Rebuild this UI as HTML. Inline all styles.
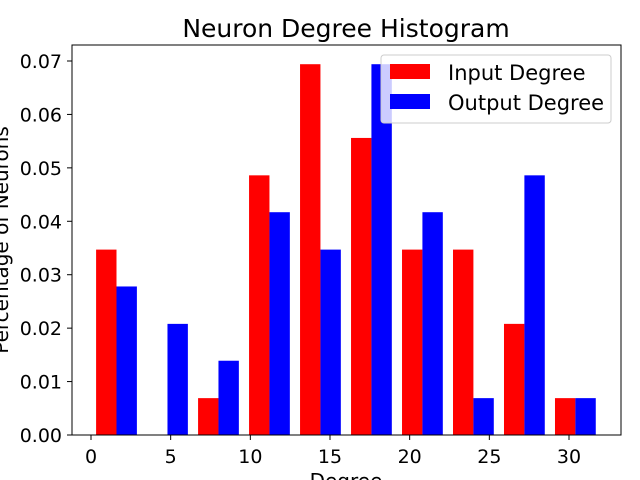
<!DOCTYPE html>
<html><head><meta charset="utf-8"><style>
body{margin:0;background:#fff;}
svg{display:block;font-family:"DejaVu Sans","Liberation Sans",sans-serif;}
</style></head><body>
<svg id="chart" width="640" height="480">
<text x="346" y="37" font-size="25" text-anchor="middle">Neuron Degree Histogram</text>
<g id="bars"></g>
<g id="axes"></g>
<rect x="72" y="45" width="549" height="390" fill="none" stroke="#000" stroke-width="1"/>
<text x="346" y="488" font-size="20" text-anchor="middle">Degree</text>
<text transform="translate(8,240) rotate(-90)" font-size="20" text-anchor="middle">Percentage of Neurons</text>
<g>
<rect x="381" y="55" width="230" height="68" rx="3" fill="#fff" fill-opacity="0.8" stroke="#ccc"/>
<rect x="390" y="64" width="40" height="15" fill="#ff0000"/>
<text x="448" y="80" font-size="21">Input Degree</text>
<rect x="390" y="94" width="40" height="15" fill="#0000ff"/>
<text x="448" y="110" font-size="21">Output Degree</text>
</g>
</svg>
<script>
const binEdgeStart = 0;
const binWidth = 3.2;
const inputDegree = [0.0347, 0, 0.0069, 0.0486, 0.0694, 0.0556, 0.0347, 0.0347, 0.0208, 0.0069];
const outputDegree = [0.0278, 0.0208, 0.0139, 0.0417, 0.0347, 0.0694, 0.0417, 0.0069, 0.0486, 0.0069];
const xTicks = [0, 5, 10, 15, 20, 25, 30];
const yTicks = [0, 0.01, 0.02, 0.03, 0.04, 0.05, 0.06, 0.07];

const NS = "http://www.w3.org/2000/svg";
const X = v => 91 + (v) * (478 / 30);
const Y = v => 435 - v * (374 / 0.07);
const bars = document.getElementById('bars');
const axes = document.getElementById('axes');
function mk(tag, attrs, parent){const e=document.createElementNS(NS,tag);for(const k in attrs)e.setAttribute(k,attrs[k]);parent.appendChild(e);return e;}

[inputDegree, outputDegree].forEach((series, si) => {
  series.forEach((v, i) => {
    const edge = binEdgeStart + i * binWidth;
    const x0 = edge + binWidth * 0.1 + si * binWidth * 0.4;
    const r = mk('rect', {x: X(x0), y: Y(v), width: X(x0 + binWidth*0.4) - X(x0), height: Y(0) - Y(v), fill: si ? '#0000ff' : '#ff0000'}, bars);
    
    
  });
});
xTicks.forEach(t => {
  const l = mk('line', {x1: X(t), x2: X(t), y1: 435, y2: 440, stroke: '#000'}, axes);
  
  
  const tx = mk('text', {x: X(t), y: 463, 'font-size': 19, 'text-anchor': 'middle'}, axes);
  tx.textContent = t;
  
  
});
yTicks.forEach(t => {
  const l = mk('line', {x1: 67, x2: 72, y1: Y(t), y2: Y(t), stroke: '#000'}, axes);
  
  
  const tx = mk('text', {x: 62, y: Y(t) + 7, 'font-size': 19, 'text-anchor': 'end'}, axes);
  tx.textContent = t.toFixed(2);
  
  
});
</script>
</body></html>
